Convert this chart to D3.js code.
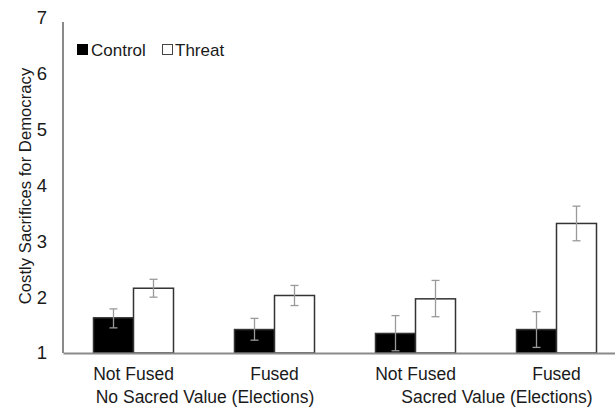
<!DOCTYPE html>
<html><head><meta charset="utf-8">
<script src="https://cdn.jsdelivr.net/npm/d3@7"></script>
<style>body{margin:0;background:#fff}svg{display:block}text{font-family:"Liberation Sans",Arial,sans-serif;fill:#1a1a1a}</style>
</head><body>
<script>
const groups = ["Not Fused|No", "Fused|No", "Not Fused|Sacred", "Fused|Sacred"];
const groupLabels = ["Not Fused", "Fused", "Not Fused", "Fused"];
const series = ["Control", "Threat"];
const controlValues = [1.63, 1.42, 1.35, 1.42];
const controlLow = [1.45, 1.23, 1.04, 1.10];
const controlHigh = [1.79, 1.62, 1.67, 1.74];
const threatValues = [2.16, 2.03, 1.97, 3.32];
const threatLow = [2.00, 1.85, 1.65, 3.01];
const threatHigh = [2.32, 2.21, 2.30, 3.63];
const yTicks = [1, 2, 3, 4, 5, 6, 7];
const superLabels = ["No Sacred Value (Elections)", "Sacred Value (Elections)"];

const W = 615, H = 408;
const svg = d3.select("body").append("svg").attr("width", W).attr("height", H);
const y = d3.scaleLinear().domain([1, 7]).range([353, 18]);
const x = d3.scaleBand().domain(groups).range([63, 627]).paddingInner(0).paddingOuter(0);
const xs = d3.scaleBand().domain(series).range([x.bandwidth()/2 - 40, x.bandwidth()/2 + 40]);

const data = [];
groups.forEach((g, i) => {
  data.push({g, s: "Control", v: controlValues[i], lo: controlLow[i], hi: controlHigh[i]});
  data.push({g, s: "Threat", v: threatValues[i], lo: threatLow[i], hi: threatHigh[i]});
});

// y axis
const yAxis = d3.axisLeft(y).tickValues(yTicks).tickSize(0).tickPadding(16).tickFormat(d3.format("d"));
const ya = svg.append("g").attr("transform", "translate(63,0)").call(yAxis);
ya.select(".domain").attr("stroke", "#8a8a8a").attr("stroke-width", 2).attr("d", `M0,${y(6.93)}V${y(1)}`);
ya.selectAll("text").attr("font-size", 18.5).style("fill", "#1a1a1a");

// bars
svg.append("g").selectAll("rect").data(data).join("rect")
  .attr("x", d => x(d.g) + xs(d.s))
  .attr("y", d => y(d.v))
  .attr("width", xs.bandwidth())
  .attr("height", d => y(1) - y(d.v))
  .attr("fill", d => d.s === "Control" ? "#000" : "#fff")
  .attr("stroke", "#333").attr("stroke-width", 1.5);

// x axis baseline
const xAxis = d3.axisBottom(x).tickSize(0).tickFormat((d, i) => groupLabels[i]).tickPadding(15);
const xa = svg.append("g").attr("transform", `translate(0,${y(1)})`).call(xAxis);
xa.select(".domain").attr("stroke", "#8a8a8a").attr("stroke-width", 2);
xa.selectAll("text").attr("font-size", 17.5).style("fill", "#1a1a1a");

// error bars
const eb = svg.append("g").attr("stroke", "#9a9a9a").attr("stroke-width", 1.3);
data.forEach(d => {
  const cx = x(d.g) + xs(d.s) + xs.bandwidth()/2;
  eb.append("line").attr("x1", cx).attr("x2", cx).attr("y1", y(d.hi)).attr("y2", y(d.lo));
  eb.append("line").attr("x1", cx-4).attr("x2", cx+4).attr("y1", y(d.hi)).attr("y2", y(d.hi));
  eb.append("line").attr("x1", cx-4).attr("x2", cx+4).attr("y1", y(d.lo)).attr("y2", y(d.lo));
});

// super labels
svg.append("text").attr("x", 205).attr("y", 403).attr("text-anchor", "middle").attr("font-size", 17.5).text(superLabels[0]);
svg.append("text").attr("x", 497).attr("y", 403).attr("text-anchor", "middle").attr("font-size", 17.5).text(superLabels[1]);

// y title
svg.append("text").attr("transform", "translate(31,186) rotate(-90)").attr("text-anchor", "middle")
  .attr("font-size", 16.7).text("Costly Sacrifices for Democracy");

// legend
const lg = svg.append("g");
lg.append("rect").attr("x", 77).attr("y", 44).attr("width", 11).attr("height", 11).attr("fill", "#000");
lg.append("text").attr("x", 91).attr("y", 55.5).attr("font-size", 17).text(series[0]);
lg.append("rect").attr("x", 162.5).attr("y", 44.5).attr("width", 10).attr("height", 10).attr("fill", "#fff").attr("stroke", "#444").attr("stroke-width", 1);
lg.append("text").attr("x", 175).attr("y", 55.5).attr("font-size", 17).text(series[1]);
</script>
</body></html>
